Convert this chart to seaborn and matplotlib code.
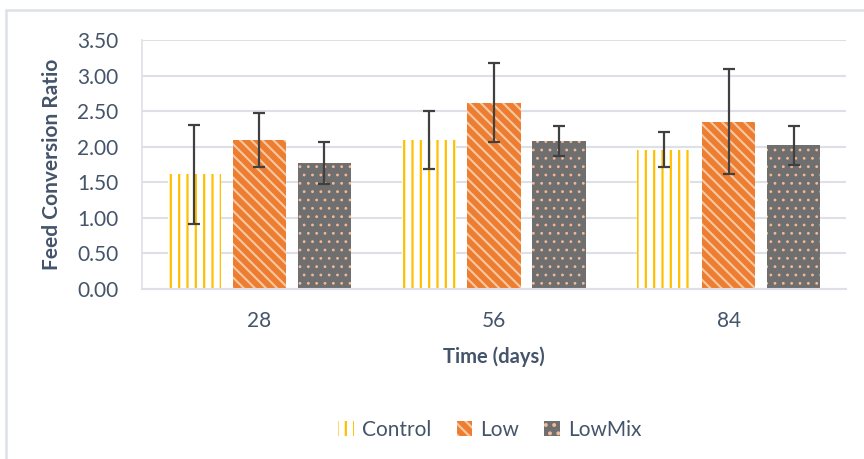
import matplotlib
matplotlib.use("Agg")
import matplotlib.pyplot as plt
from matplotlib.patches import Patch
from matplotlib.lines import Line2D
import seaborn as sns
import pandas as pd
import numpy as np

# ---- data ----
times = ["28", "56", "84"]
groups = ["Control", "Low", "LowMix"]
control_mean = [1.61, 2.09, 1.96]
low_mean = [2.09, 2.62, 2.35]
lowmix_mean = [1.77, 2.08, 2.02]
control_sd = [0.70, 0.41, 0.24]
low_sd = [0.38, 0.55, 0.74]
lowmix_sd = [0.30, 0.21, 0.27]

means = {"Control": control_mean, "Low": low_mean, "LowMix": lowmix_mean}
sds = {"Control": control_sd, "Low": low_sd, "LowMix": lowmix_sd}

rows = []
for g in groups:
    for t, m in zip(times, means[g]):
        rows.append({"time": t, "group": g, "value": m})
df = pd.DataFrame(rows)

# ---- style ----
sns.set_theme(style="white")
plt.rcParams["font.family"] = ["Lato", "DejaVu Sans"]
plt.rcParams["hatch.linewidth"] = 1.6
text_color = "#44546A"
grid_color = "#DDE1E7"

styles = {
    "Control": dict(face="white", hatchcol="#FFC000", hatch="||", hlw=1.6),
    "Low": dict(face="#ED7D31", hatchcol="#F8C8A2", hatch="\\\\\\", hlw=1.5),
    "LowMix": dict(face="#6F6F6F", hatchcol="#F4B998", hatch="..", hlw=0.8),
}


def style_patch(p, st):
    p.set_facecolor(st["face"])
    p.set_edgecolor(st["hatchcol"])
    p.set_hatch(st["hatch"])
    p.set_linewidth(0)
    if hasattr(p, "set_hatch_linewidth"):
        p.set_hatch_linewidth(st["hlw"])


fig = plt.figure(figsize=(8.64, 4.59), dpi=100)
W, H = 864, 459
ax = fig.add_axes([142 / W, 1 - 289 / H, (846 - 142) / W, (289 - 40) / H])

sns.barplot(data=df, x="time", y="value", hue="group", order=times,
            hue_order=groups, palette=[styles[g]["face"] for g in groups],
            width=0.83, gap=0.18, errorbar=None, ax=ax, legend=False,
            zorder=2)

for g, cont in zip(groups, ax.containers):
    st = styles[g]
    for i, bar in enumerate(cont):
        style_patch(bar, st)
        cx = bar.get_x() + bar.get_width() / 2
        ax.errorbar(cx, means[g][i], yerr=sds[g][i], fmt="none",
                    ecolor="#404040", elinewidth=1.6, capsize=4.4,
                    capthick=1.6, zorder=4)

ax.set_ylim(0, 3.5)
ax.set_xlim(-0.5, 2.5)
ax.set_yticks(np.arange(0, 3.51, 0.5))
ax.set_yticklabels([f"{v:.2f}" for v in np.arange(0, 3.51, 0.5)])
ax.yaxis.grid(True, color=grid_color, linewidth=1.5, zorder=0)
ax.set_axisbelow(True)
for s in ["top", "right"]:
    ax.spines[s].set_visible(False)
ax.spines["left"].set_color(grid_color)
ax.spines["left"].set_linewidth(1.2)
ax.spines["bottom"].set_color(grid_color)
ax.spines["bottom"].set_linewidth(1.5)
ax.tick_params(axis="both", length=0, labelsize=15, colors=text_color)
ax.tick_params(axis="y", pad=17)
ax.tick_params(axis="x", pad=16)
ax.set_xlabel("Time (days)", fontsize=14.5, fontweight="bold", color=text_color,
              labelpad=11)
ax.set_ylabel("Feed Conversion Ratio", fontsize=15, fontweight="bold",
              color=text_color, labelpad=11)

handles = []
for g in groups:
    h = Patch(label=g)
    style_patch(h, styles[g])
    handles.append(h)
fig.legend(handles=handles, labels=groups, loc="center",
           bbox_to_anchor=(490 / W, 1 - 430 / H), ncol=3, frameon=False,
           fontsize=15, labelcolor=text_color, handlelength=0.75,
           handleheight=0.75, handletextpad=0.4, columnspacing=1.2)

# chart frame (left and top borders)
fig.add_artist(Line2D([6 / W, 6 / W], [0, 1 - 10 / H], color=grid_color,
                      linewidth=1.8, transform=fig.transFigure))
fig.add_artist(Line2D([6 / W, 1], [1 - 10 / H, 1 - 10 / H], color=grid_color,
                      linewidth=1.8, transform=fig.transFigure))

fig.savefig("out.png", dpi=100)
